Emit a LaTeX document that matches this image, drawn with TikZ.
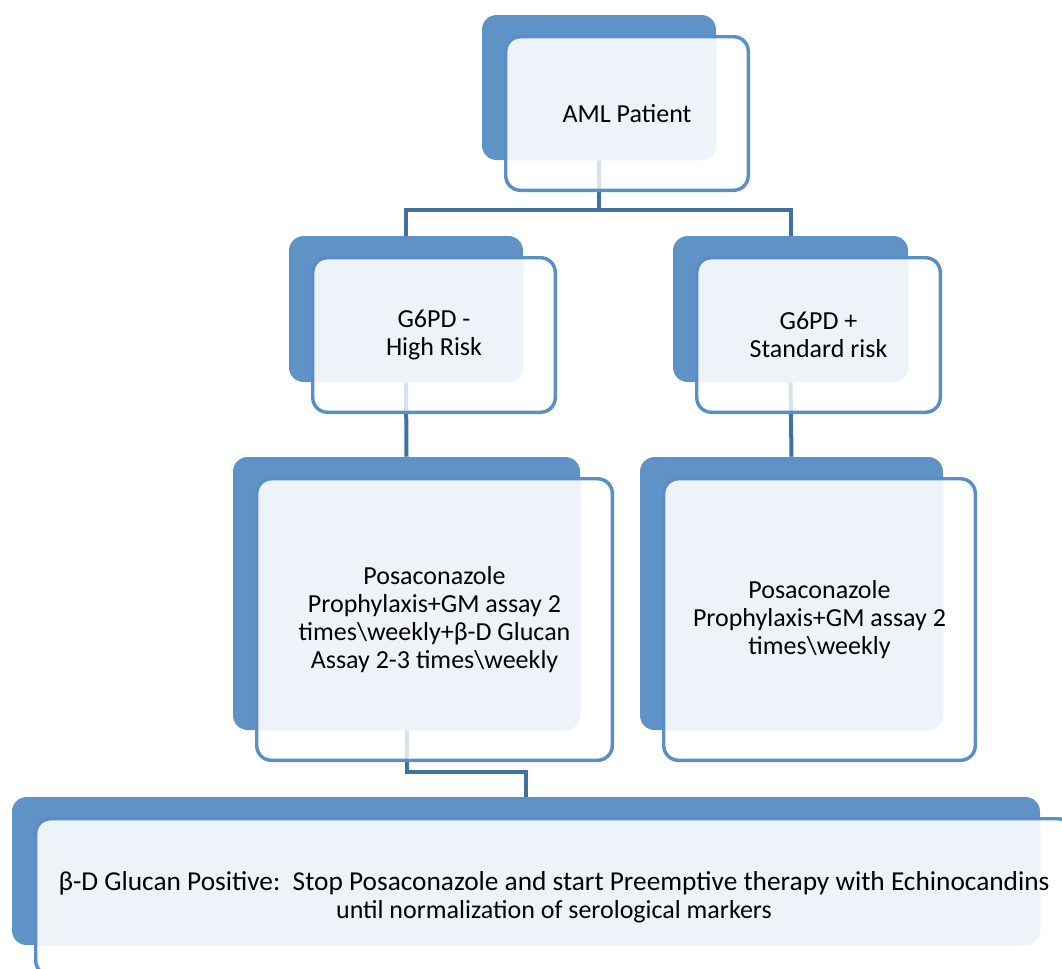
\documentclass[tikz,border=0pt]{standalone}
\usepackage{fontspec}
\setmainfont{Carlito}
\usetikzlibrary{fit,backgrounds}

\definecolor{presBlue}{RGB}{95,146,199}
\definecolor{presEdge}{RGB}{91,142,198}
\definecolor{presTint}{RGB}{238,243,250}
\definecolor{presLink}{RGB}{65,113,160}

\tikzset{
  backbox/.style={fill=presBlue, rounded corners=11pt, inner sep=0pt},
  frontbox/.style={fill=white, fill opacity=0.8, rounded corners=11pt, inner sep=0pt},
  frontline/.style={draw=presEdge, line width=2.6pt, rounded corners=11pt},
  boxtext/.style={align=center, font=\fontsize{19.5}{21}\selectfont},
  link/.style={draw=presLink, line width=3pt},
}

% dark box (name, left, top, right, bottom), offset front box, text
\newcommand{\flowbox}[6]{%
  \node[backbox, fit={(#2,#3) (#4,#5)}] (#1) {};
  \node[frontbox, fit={({#2+24},{#3+22}) ({#4+32},{#5+30})}] (#1F) {};
  \begin{scope}
    \clip[rounded corners=11pt] (#1F.north west) rectangle (#1F.south east);
    \fill[presTint, rounded corners=11pt] (#1.north west) rectangle (#1.south east);
  \end{scope}
  \draw[frontline] (#1F.north west) rectangle (#1F.south east);
  \node[boxtext] (#1T) at (#1F.center) {#6};
}

\begin{document}
\begin{tikzpicture}[x=0.75pt, y=-0.75pt]
\useasboundingbox (0,0) rectangle (1062,968);
\clip (0,0) rectangle (1062,968);

\flowbox{aml}{482}{15}{716}{160}{AML Patient}
\flowbox{risk}{289}{236}{523}{382}{G6PD -\\High Risk}
\flowbox{std}{673}{236}{908}{382}{G6PD +\\Standard risk}
\flowbox{highP}{233}{457}{580}{730}{Posaconazole\\Prophylaxis+GM assay 2\\times\textbackslash weekly+β-D Glucan\\Assay 2-3 times\textbackslash weekly}
\flowbox{stdP}{640}{457}{943}{730}{Posaconazole\\Prophylaxis+GM assay 2\\times\textbackslash weekly}
\flowbox{glucan}{12}{797}{1040}{945}{\fontsize{20.5}{20}\selectfont β-D Glucan Positive:\ \ Stop Posaconazole and start Preemptive therapy with Echinocandins\\until normalization of serological markers}

\begin{pgfonlayer}{background}
\draw[link] (aml.south) -- ++(0,50) -| (risk.north);
\draw[link] (aml.south) -- ++(0,50) -| (std.north);
\draw[link] (risk.south) -- (highP.north);
\draw[link] (std.south) -- (stdP.north);
\draw[link] (highP.south) -- ++(0,42) -| (glucan.north);
\end{pgfonlayer}
\end{tikzpicture}
\end{document}
